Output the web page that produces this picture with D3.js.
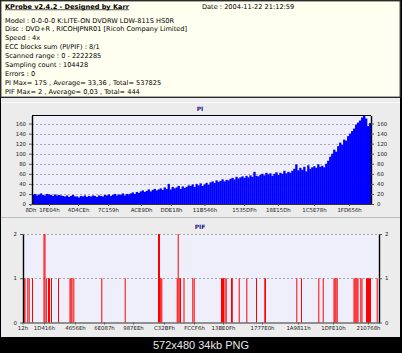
<!DOCTYPE html>
<html>
<head>
<meta charset="utf-8">
<script src="https://cdn.jsdelivr.net/npm/d3@7"></script>
<style>
  body { margin: 0; background: #000; }
  svg { display: block; font-family: "DejaVu Sans", sans-serif; }
</style>
</head>
<body>
<div id="chart"></div>
<script>
// header lines
const title = 'KProbe v2.4.2 - Designed by Karr';
const dateText = 'Date : 2004-11-22 21:12:59';
const infoLines = [
  'Model : 0-0-0-0 K:LITE-ON DVDRW LDW-811S   HS0R',
  'Disc : DVD+R , RICOHJPNR01 [Ricoh Company Limited]',
  'Speed : 4x',
  'ECC blocks sum (PI/PIF) : 8/1',
  'Scanned range : 0 - 2222285',
  'Sampling count : 104428',
  'Errors : 0',
  'PI Max= 175 , Average= 33,36 , Total= 537825',
  'PIF Max= 2 , Average= 0,03 , Total= 444'
];

// PI samples (left to right)
const piValues = [
  18,20,17,19,21,18,17,20,19,18,16,19,17,18,17,
  16,15,17,14,16,18,15,15,13,16,15,17,14,16,15,17,16,14,17,16,15,18,
  17,19,16,18,20,17,19,18,21,17,20,19,
  21,23,20,24,22,25,27,24,26,29,25,28,30,27,29,
  31,28,33,30,40,29,34,31,33,36,30,35,32,34,37,
  36,39,34,40,37,41,36,39,42,38,
  43,45,42,47,44,46,49,45,48,47,
  50,52,49,54,51,53,55,52,56,53,57,54,64,56,55,
  58,60,57,62,59,61,56,60,63,58,62,60,66,61,64,62,
  66,70,79,67,72,68,74,65,77,70,73,
  75,72,79,74,76,73,80,
  86,94,100,108,104,115,
  122,118,128,126,135,
  140,145,150,158,162,
  166,172,175,170,
  155,161
];
const piYTicks = [0, 20, 40, 60, 80, 100, 120, 140, 160];
const piXLabels = ['8Dh','1FE04h','4D4CEh','7C159h','ACE9Dh','DDE18h','11B546h','1535DFh','18E15Dh','1C5E78h','1FD656h'];
const piXAt = [-0.8, 8.5, 23.1, 38.1, 54.7, 69.7, 86.5, 106.3, 123.3, 141.4, 159];

// PIF events: [sample position, count]
const pifEvents = [
  [0.5,1],[1.5,1],[4.3,1],[5.7,1],[9,1],[20.5,2],[21.5,2],[22.8,1],[25,1],[26,1],[28,1],[35,1],
  [46.5,1],[47.5,1],[48.5,1],[50.3,1],[78.3,1],[101.7,1],[135,2],[136,2],[137.2,1],[138.3,1],
  [153.7,1],[154.7,2],[156.3,1],[157,1],[160.5,1],[169.3,1],[170.7,1],
  [198,1],[199,1],[200,1],[201.5,1],[202.7,1],[208,1],[208.8,1],[215.7,1],[223.3,1],[233,1],
  [241.3,1],[242,1],[273.3,1],[278,1],[295.3,1],[299.7,1],
  [310.5,1],[311.5,1],[312.5,1],[313.7,1],
  [330.5,1],[331.5,1],[332.5,1],[333.5,1],[334.5,1],[337.3,1],[338.5,1],
  [343,1],[344,1],[345,1],[346,1],[347,1],[353.7,1]
];
const pifSamples = 356;
const pifYTicks = [0, 1, 2];
const pifXLabels = ['12h','1D416h','4656Eh','6E087h','987EEh','C32BFh','FCCF6h','13BE0Fh','1777E0h','1A9811h','1DFE10h','210768h'];
const pifXAt = [-0.5, 21, 52, 81, 110, 141, 171, 200, 239, 275, 310, 345];

const W = 402, H = 353;
const svg = d3.select('#chart').append('svg')
  .attr('width', W).attr('height', H);

svg.append('rect').attr('width', W).attr('height', H).attr('fill', '#000');

// header panel
svg.append('rect')
  .attr('x', 1).attr('y', 1).attr('width', 399).attr('height', 96)
  .attr('fill', '#fffff0').attr('stroke', '#555').attr('stroke-width', 1);

svg.append('text')
  .attr('x', 5).attr('y', 8.5)
  .attr('font-size', '6.6px').attr('font-weight', 'bold')
  .attr('text-decoration', 'underline')
  .attr('fill', '#000')
  .text(title);
svg.append('text')
  .attr('x', 202).attr('y', 8.5)
  .attr('font-size', '6.6px').attr('fill', '#000')
  .text(dateText);

svg.append('g').selectAll('text')
  .data(infoLines)
  .join('text')
    .attr('x', 5)
    .attr('y', (d, i) => 22.5 + i * 8.95)
    .attr('font-size', '6.6px')
    .attr('fill', '#000')
    .text(d => d);

// chart panel
svg.append('rect')
  .attr('x', 1).attr('y', 98).attr('width', 399).attr('height', 239)
  .attr('fill', '#ececec');
svg.append('line')
  .attr('x1', 1).attr('x2', 400).attr('y1', 217.5).attr('y2', 217.5)
  .attr('stroke', '#bdbdbd');
svg.append('line')
  .attr('x1', 1).attr('x2', 400).attr('y1', 102.5).attr('y2', 102.5)
  .attr('stroke', '#fafafa');

function drawPanel(cfg) {
  const g = svg.append('g');
  const x = d3.scaleLinear().domain([0, cfg.n]).range([cfg.left, cfg.right]);
  const y = d3.scaleLinear().domain([0, cfg.ymax]).range([cfg.bottom, cfg.top]);

  g.append('rect')
    .attr('x', cfg.left).attr('y', cfg.top)
    .attr('width', cfg.right - cfg.left).attr('height', cfg.bottom - cfg.top)
    .attr('fill', '#efeffb');

  // dashed grid
  g.append('g').selectAll('line')
    .data(cfg.yTicks.filter(v => v > 0))
    .join('line')
      .attr('x1', cfg.left).attr('x2', cfg.right)
      .attr('y1', d => Math.round(y(d)) + 0.5).attr('y2', d => Math.round(y(d)) + 0.5)
      .attr('stroke', '#a8a8a8').attr('stroke-dasharray', '2,2');

  cfg.marks(g, x, y);

  // left / right axes
  const yl = d3.axisLeft(y).tickValues(cfg.yTicks).tickFormat(d3.format('d')).tickSize(3).tickSizeOuter(0);
  const yr = d3.axisRight(y).tickValues(cfg.yTicks).tickFormat(d3.format('d')).tickSize(3).tickSizeOuter(0);
  const axL = g.append('g').attr('transform', `translate(${cfg.left},0)`).call(yl);
  const axR = g.append('g').attr('transform', `translate(${cfg.right},0)`).call(yr);
  [axL, axR].forEach(a => {
    a.select('.domain').attr('stroke', '#000').attr('stroke-width', 1.4);
    a.selectAll('.tick line').attr('stroke', '#555');
    a.selectAll('text').attr('font-size', '5.4px').attr('fill', '#222')
      .attr('font-family', '"DejaVu Sans", sans-serif');
  });

  const xa = d3.axisBottom(x).tickValues(cfg.xAt)
    .tickFormat((d, i) => cfg.xLabels[i]).tickSize(2).tickSizeOuter(0);
  const axB = g.append('g').attr('transform', `translate(0,${cfg.bottom})`).call(xa);
  axB.select('.domain').attr('stroke', '#333');
  axB.selectAll('.tick line').attr('stroke', '#555');
  axB.selectAll('text').attr('font-size', '5.4px').attr('fill', '#222').attr('dy', '0.5em')
    .attr('font-family', '"DejaVu Sans", sans-serif');

  if (cfg.topLine) {
    g.append('line')
      .attr('x1', cfg.left).attr('x2', cfg.right)
      .attr('y1', cfg.top).attr('y2', cfg.top)
      .attr('stroke', '#000').attr('stroke-width', 1.2);
  }

  svg.append('text')
    .attr('x', 200).attr('y', cfg.titleY)
    .attr('text-anchor', 'middle')
    .attr('font-size', '6px').attr('font-weight', 'bold')
    .attr('fill', '#1c1c8c')
    .text(cfg.title);
}

drawPanel({
  title: 'PI', titleY: 111,
  left: 32, right: 371, top: 115.5, bottom: 204,
  n: piValues.length, ymax: 176, yTicks: piYTicks,
  xAt: piXAt, xLabels: piXLabels, topLine: true,
  marks: (g, x, y) => {
    g.append('g').selectAll('rect')
      .data(piValues)
      .join('rect')
        .attr('x', (d, i) => x(i))
        .attr('width', (d, i) => x(i + 1) - x(i) + 0.3)
        .attr('y', d => y(d))
        .attr('height', d => y(0) - y(d))
        .attr('fill', '#0000ff');
  }
});

drawPanel({
  title: 'PIF', titleY: 229,
  left: 23, right: 379, top: 234, bottom: 322.5,
  n: pifSamples, ymax: 2, yTicks: pifYTicks,
  xAt: pifXAt, xLabels: pifXLabels, topLine: false,
  marks: (g, x, y) => {
    g.append('g').selectAll('rect')
      .data(pifEvents)
      .join('rect')
        .attr('x', d => x(d[0]))
        .attr('width', x(1) - x(0))
        .attr('y', d => y(d[1]))
        .attr('height', d => y(0) - y(d[1]))
        .attr('fill', '#ff0000');
  }
});

// thumbnail caption
svg.append('text')
  .attr('x', 201).attr('y', 349)
  .attr('text-anchor', 'middle')
  .attr('font-family', '"Liberation Sans", Arial, sans-serif')
  .attr('font-size', '11px')
  .attr('fill', '#e6e6e6')
  .text('572x480 34kb PNG');
</script>
</body>
</html>
